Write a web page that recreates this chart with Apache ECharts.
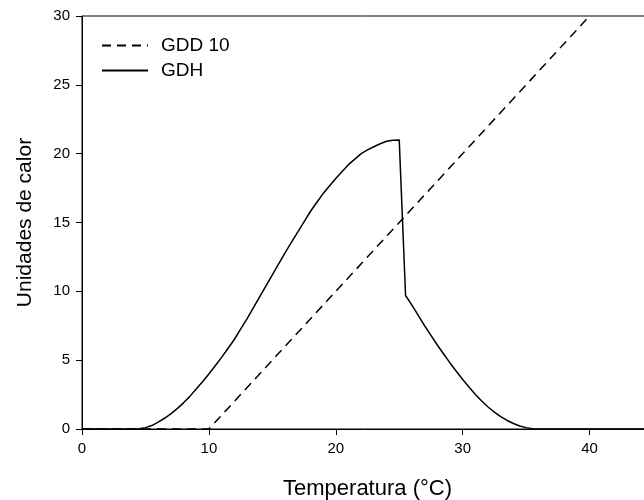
<!DOCTYPE html>
<html><head><meta charset="utf-8">
<script src="https://cdn.jsdelivr.net/npm/echarts@6/dist/echarts.min.js"></script>
<style>html,body{margin:0;padding:0;background:#fff}#c{width:644px;height:500px}</style>
</head><body><div id="c"></div>
<script>
const gddX = [0, 10, 40, 45];
const gddY = [0, 0, 30, 35];
const gdhX = [0, 4, 4.5, 5, 5.5, 6, 6.5, 7, 7.5, 8, 8.5, 9, 9.5, 10, 10.5, 11, 11.5, 12, 12.5, 13, 13.5, 14, 14.5, 15, 15.5, 16, 16.5, 17, 17.5, 18, 18.5, 19, 19.5, 20, 20.5, 21, 21.5, 22, 22.5, 23, 23.5, 24, 24.5, 25,
  25.5, 26, 26.5, 27, 27.5, 28, 28.5, 29, 29.5, 30, 30.5, 31, 31.5, 32, 32.5, 33, 33.5, 34, 34.5, 35, 35.5, 36, 45];
const gdhY = [0, 0, 0.02, 0.1, 0.25, 0.5, 0.78, 1.1, 1.48, 1.9, 2.37, 2.9, 3.43, 4.0, 4.6, 5.2, 5.85, 6.5, 7.25, 8.0, 8.8, 9.6, 10.4, 11.2, 12.0, 12.8, 13.55, 14.3, 15.05, 15.8, 16.45, 17.1, 17.65, 18.2, 18.7, 19.2, 19.6, 20.0, 20.27, 20.5, 20.72, 20.9, 20.97, 21.0,
  9.7, 9.0, 8.25, 7.5, 6.8, 6.1, 5.45, 4.8, 4.2, 3.6, 3.05, 2.5, 2.03, 1.6, 1.23, 0.9, 0.62, 0.4, 0.22, 0.1, 0.02, 0, 0];
const xTicks = [0, 10, 20, 30, 40];
const yTicks = [0, 5, 10, 15, 20, 25, 30];
const font = '"Liberation Sans", Arial, sans-serif';
const zip = (a, b) => a.map((v, i) => [v, b[i]]);
const chart = echarts.init(document.getElementById('c'), null, {renderer: 'canvas'});
chart.setOption({
  animation: false,
  backgroundColor: '#fff',
  grid: {left: 82, top: 16, width: 571, height: 413, containLabel: false, outerBoundsMode: 'none',
         show: true, borderColor: '#000', borderWidth: 1, backgroundColor: 'transparent'},
  legend: {
    orient: 'vertical', left: 96, top: 31, itemWidth: 46, itemHeight: 14, itemGap: 6,
    itemStyle: {color: 'transparent', borderWidth: 0, opacity: 0},
    textStyle: {fontFamily: font, fontSize: 19, color: '#000', padding: [0, 0, 0, 8]},
    data: ['GDD 10', 'GDH']
  },
  xAxis: {
    type: 'value', min: 0, max: 45, interval: 10,
    name: 'Temperatura (°C)', nameLocation: 'middle', nameGap: 49,
    nameTextStyle: {fontFamily: font, fontSize: 22, color: '#000'},
    axisLine: {show: true, lineStyle: {color: '#000', width: 1}},
    axisTick: {show: true, length: 6, lineStyle: {color: '#000'}},
    axisLabel: {fontFamily: font, fontSize: 15, color: '#000', margin: 12, formatter: v => xTicks.includes(v) ? String(v) : ''},
    splitLine: {show: false}
  },
  yAxis: {
    type: 'value', min: 0, max: 30, interval: 5,
    name: 'Unidades de calor', nameLocation: 'middle', nameGap: 46,
    nameTextStyle: {fontFamily: font, fontSize: 21, color: '#000'},
    axisLine: {show: true, lineStyle: {color: '#000', width: 1}},
    axisTick: {show: true, length: 6, lineStyle: {color: '#000'}},
    axisLabel: {fontFamily: font, fontSize: 15, color: '#000', margin: 12, formatter: v => yTicks.includes(v) ? String(v) : ''},
    splitLine: {show: false}
  },
  series: [
    {name: 'GDD 10', type: 'line', data: zip(gddX, gddY), symbol: 'none', clip: true,
     lineStyle: {color: '#000', width: 1.5, type: [9, 6]}, itemStyle: {color: '#000'}},
    {name: 'GDH', type: 'line', data: zip(gdhX, gdhY), symbol: 'none', clip: true, smooth: false,
     lineStyle: {color: '#000', width: 1.5, type: 'solid'}, itemStyle: {color: '#000'}}
  ]
});
</script></body></html>
